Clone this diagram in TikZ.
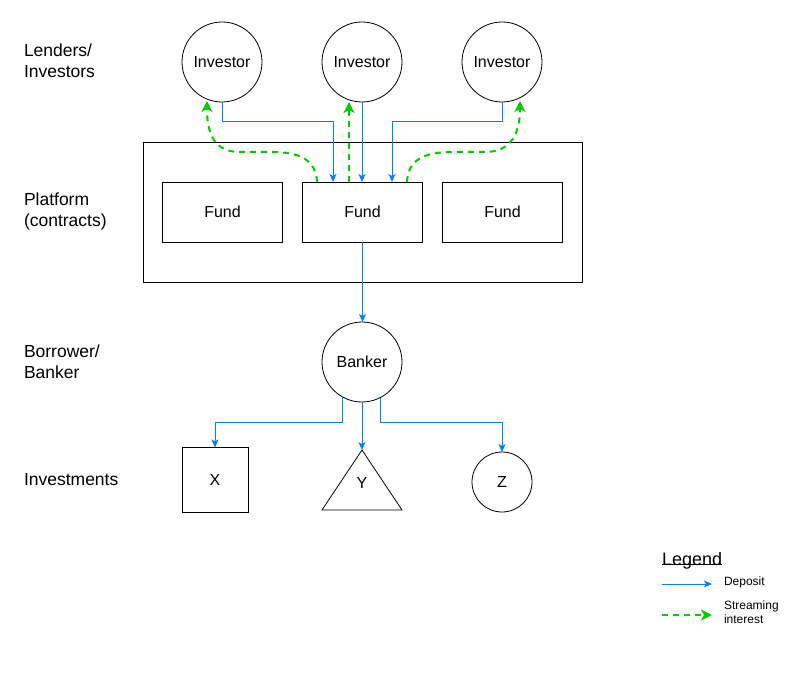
\documentclass[tikz,border=0pt]{standalone}
\usepackage{fontspec}
\setmainfont{Liberation Sans}
\usetikzlibrary{arrows.meta}
\definecolor{depblue}{HTML}{007FFF}
\definecolor{intgreen}{HTML}{00CC00}
\begin{document}
\begin{tikzpicture}[x=1pt,y=-1pt,
  every node/.style={inner sep=0pt, outer sep=0pt},
  lbl/.style={anchor=west, align=left, font=\fontsize{17.5}{21}\selectfont},
  nodetxt/.style={font=\fontsize{16}{19}\selectfont},
  circ/.style={draw, circle, line width=0.8pt, nodetxt},
  fundbox/.style={draw, rectangle, line width=0.8pt, minimum width=120pt, minimum height=60pt, nodetxt},
  dep/.style={draw=depblue, line width=1pt, -{Stealth[length=8pt,width=7pt,inset=2pt]}},
  intr/.style={draw=intgreen, line width=2pt, dash pattern=on 6pt off 5pt, -{Stealth[length=11pt,width=11pt,inset=3pt]}},
  legtxt/.style={anchor=west, align=left, font=\fontsize{12}{14}\selectfont}
]
\useasboundingbox (0,0) rectangle (804,674);

% left labels
\node[lbl] (l1) at (24,61) {Lenders/\\Investors};
\node[lbl] (l2) at (24,211) {Platform\\(contracts)};
\node[lbl] (l3) at (24,362) {Borrower/\\Banker};
\node[lbl] (l4) at (24,480) {Investments};

% platform
\node[draw, rectangle, line width=0.8pt, minimum width=439pt, minimum height=140pt] (platform) at (362.5,212) {};

% investors
\node[circ, minimum size=80pt] (inv1) at (222,62) {Investor};
\node[circ, minimum size=80pt] (inv2) at (362,62) {Investor};
\node[circ, minimum size=80pt] (inv3) at (502,62) {Investor};

% funds
\node[fundbox] (fund1) at (222.5,212) {Fund};
\node[fundbox] (fund2) at (362.5,212) {Fund};
\node[fundbox] (fund3) at (502.5,212) {Fund};

% banker
\node[circ, minimum size=80pt] (banker) at (362,362) {Banker};

% investments
\node[draw, rectangle, line width=0.8pt, minimum width=66pt, minimum height=65pt, nodetxt] (X) at (215,480) {X};
\coordinate (yapex) at (362,450);
\draw[line width=0.8pt] (yapex) -- (402,510) -- (322,510) -- cycle;
\node[nodetxt] (Y) at (362,483) {Y};
\node[circ, minimum size=60pt] (Z) at (502,482) {Z};

% deposit arrows investors -> fund
\draw[dep] (inv1.south) -- ++(0,20) -| ([xshift=-29.5pt]fund2.north);
\draw[dep] (inv2.south) -- (inv2.south |- fund2.north);
\draw[dep] (inv3.south) -- ++(0,20) -| ([xshift=29.5pt]fund2.north);

% streaming interest
\coordinate (gl0) at ([xshift=-45.5pt]fund2.north);
\coordinate (gm0) at ([xshift=-13.5pt]fund2.north);
\coordinate (gr0) at ([xshift=44.5pt]fund2.north);
\coordinate (gl1) at (207,101);
\coordinate (gr1) at (520,101);
\draw[intr] (gl0) .. controls (316,160) and (300,152) .. (272,152) -- (240,152) .. controls (215,152) and (207,135) .. (gl1);
\draw[intr] (gm0) -- (gm0 |- inv2.south);
\draw[intr] (gr0) .. controls (408,160) and (424,152) .. (452,152) -- (485,152) .. controls (510,152) and (520,135) .. (gr1);

% fund -> banker
\draw[dep] (fund2.south) -- (fund2.south |- banker.north);

% banker -> investments
\coordinate (split) at (362,422);
\draw[dep] (banker.-120) -- (banker.-120 |- split) -| (X.north);
\draw[dep] (banker.south) -- (yapex);
\draw[dep] (banker.-63) -- (banker.-63 |- split) -| (Z.north);

% legend
\node[anchor=west, font=\fontsize{18}{21}\selectfont] (leg) at (662,561) {Legend};
\draw[line width=1pt] ([yshift=1.5pt]leg.base west) -- ([yshift=1.5pt]leg.base east);
\coordinate (d0) at (662,584);
\coordinate (d1) at (712,584);
\draw[dep] (d0) -- (d1);
\node[legtxt] (dt) at (724,582) {Deposit};
\coordinate (s0) at (662,615);
\coordinate (s1) at (712,615);
\draw[intr] (s0) -- (s1);
\node[legtxt] (st) at (724,612) {Streaming\\interest};
\end{tikzpicture}
\end{document}
